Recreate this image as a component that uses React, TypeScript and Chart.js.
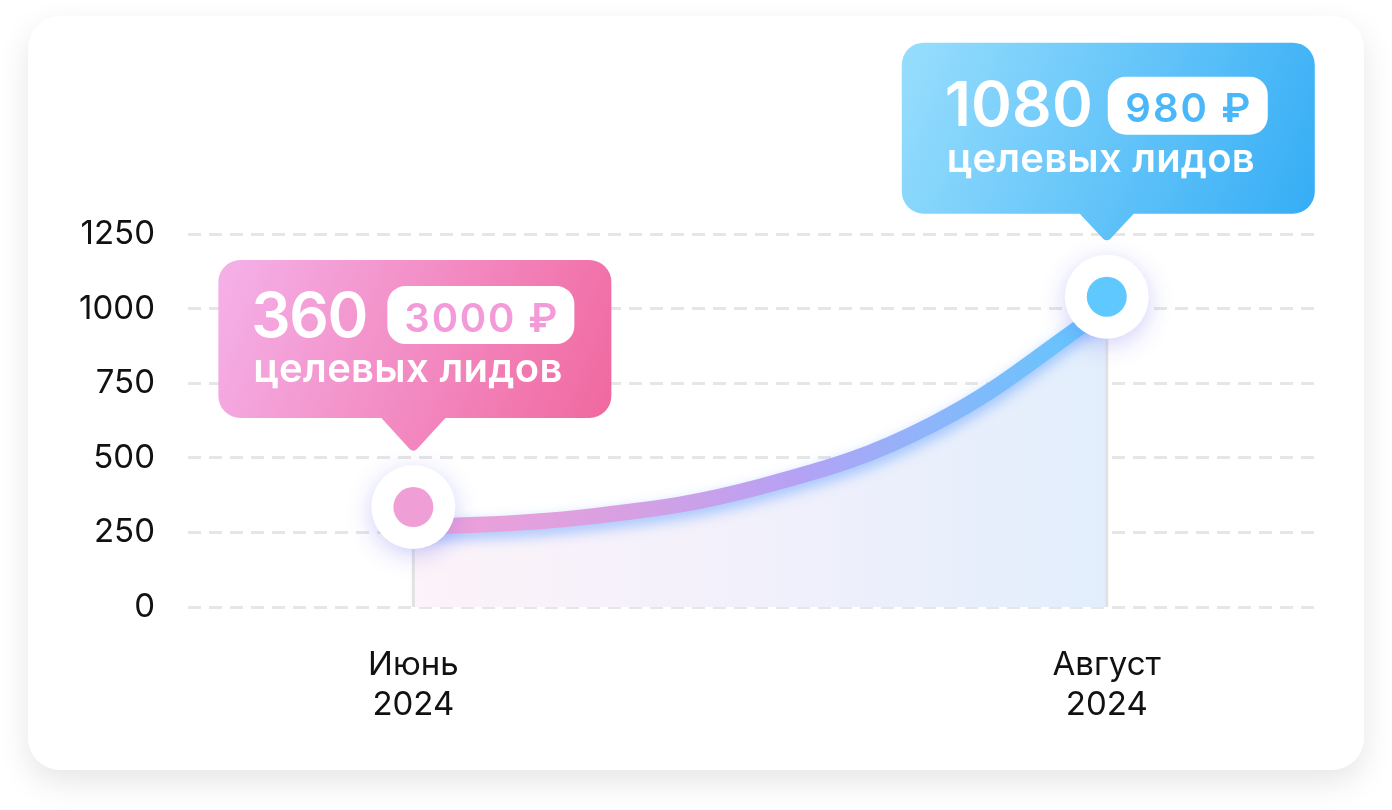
import React, { useEffect, useRef } from 'react';
import { Chart, registerables } from 'chart.js';

Chart.register(...registerables);

// x axis: months as numbers (6 = June, 8 = August)
const monthLabels = ['Июнь 2024', 'Август 2024'];
const monthTicks = [6, 8];

// leads curve
const curveMonths = [6, 6.5, 7, 7.5, 8];
const curveLeads = [265, 302, 403, 614, 1000];

// highlighted points with callouts
const markerMonths = [6, 8];
const markerLeads = [335, 1040];
const leadCounts = ['360', '1080'];
const leadPrices = ['3000 ₽', '980 ₽'];
const leadCaption = 'целевых лидов';
const markerColors = ['#f09fd6', '#5fc8ff'];

const yTicks = [0, 250, 500, 750, 1000, 1250];

const FONT = 'Inter, "Noto Sans", sans-serif';

const bubbleStyles = [
  {
    colors: ['#f5b1e9', '#f0689f'], accent: '#f29bd8',
    left: -195, right: 198, top: -193, bottom: -35, half: 32,
    numX: 33, numY: 77, numW: 117,
    pill: [169, 26, 187, 58], priceY: 72, priceW: 153,
    capX: 35, capY: 122, capW: 309,
  },
  {
    colors: ['#98defd', '#35adf5'], accent: '#4ab8f8',
    left: -205, right: 208, top: -200, bottom: -29, half: 27,
    numX: 43, numY: 83, numW: 148,
    pill: [206, 34, 160, 58], priceY: 79, priceW: 125,
    capX: 45, capY: 129, capW: 308,
  },
];

function fitText(ctx: CanvasRenderingContext2D, text: string, x: number, y: number, width: number) {
  (ctx as any).letterSpacing = '0px';
  const w = ctx.measureText(text).width;
  const sp = (width - w) / Math.max(1, text.length - 1);
  (ctx as any).letterSpacing = `${sp}px`;
  ctx.fillText(text, x, y);
  (ctx as any).letterSpacing = '0px';
}

function roundRect(ctx: CanvasRenderingContext2D, x: number, y: number, w: number, h: number, r: number) {
  ctx.beginPath();
  ctx.moveTo(x + r, y);
  ctx.arcTo(x + w, y, x + w, y + h, r);
  ctx.arcTo(x + w, y + h, x, y + h, r);
  ctx.arcTo(x, y + h, x, y, r);
  ctx.arcTo(x, y, x + w, y, r);
  ctx.closePath();
}

const glowPlugin = {
  id: 'glow',
  beforeDatasetDraw(chart: any, args: any) {
    const ctx = chart.ctx;
    if (args.index === 1) {
      ctx.save();
      ctx.shadowColor = 'rgba(80, 150, 255, 0.5)';
      ctx.shadowBlur = 14;
      ctx.shadowOffsetY = 6;
    }
    if (args.index === 2) {
      ctx.save();
      ctx.shadowColor = 'rgba(110, 110, 240, 0.32)';
      ctx.shadowBlur = 24;
      ctx.shadowOffsetY = 6;
    }
  },
  afterDatasetDraw(chart: any, args: any) {
    const ctx = chart.ctx;
    if (args.index === 1 || args.index === 2) ctx.restore();
    if (args.index === 0) {
      const { x, y } = chart.scales;
      ctx.save();
      ctx.strokeStyle = '#e2e2e2';
      ctx.lineWidth = 3;
      markerMonths.forEach((m, i) => {
        const px = x.getPixelForValue(m);
        ctx.beginPath();
        ctx.moveTo(px, y.getPixelForValue(markerLeads[i]));
        ctx.lineTo(px, y.getPixelForValue(0));
        ctx.stroke();
      });
      ctx.restore();
    }
  },
};

const calloutPlugin = {
  id: 'callouts',
  afterDatasetsDraw(chart: any) {
    const ctx: CanvasRenderingContext2D = chart.ctx;
    const { x, y } = chart.scales;
    markerMonths.forEach((m, i) => {
      const s = bubbleStyles[i];
      const tx = x.getPixelForValue(m);
      const ty = y.getPixelForValue(markerLeads[i]) - 54;
      const L = tx + s.left, R = tx + s.right, T = ty + s.top, B = ty + s.bottom;
      const r = 22;
      ctx.save();
      const g = ctx.createLinearGradient(L, T, R, B);
      g.addColorStop(0, s.colors[0]);
      g.addColorStop(1, s.colors[1]);
      ctx.fillStyle = g;
      ctx.beginPath();
      ctx.moveTo(L + r, T);
      ctx.arcTo(R, T, R, B, r);
      ctx.arcTo(R, B, L, B, r);
      ctx.lineTo(tx + s.half, B);
      ctx.arcTo(tx, ty, tx - s.half, B, 5);
      ctx.lineTo(tx - s.half, B);
      ctx.arcTo(L, B, L, T, r);
      ctx.arcTo(L, T, R, T, r);
      ctx.closePath();
      ctx.fill();

      ctx.textAlign = 'left';
      ctx.textBaseline = 'alphabetic';
      ctx.fillStyle = '#ffffff';
      ctx.font = `600 62px ${FONT}`;
      fitText(ctx, leadCounts[i], L + s.numX, T + s.numY, s.numW);

      const [px, py, pw, ph] = s.pill;
      ctx.fillStyle = '#ffffff';
      roundRect(ctx, L + px, T + py, pw, ph, 18);
      ctx.fill();
      ctx.fillStyle = s.accent;
      ctx.font = `600 40px ${FONT}`;
      fitText(ctx, leadPrices[i], L + px + (pw - s.priceW) / 2, T + s.priceY, s.priceW);

      ctx.fillStyle = '#ffffff';
      ctx.font = `600 40px ${FONT}`;
      fitText(ctx, leadCaption, L + s.capX, T + s.capY, s.capW);
      ctx.restore();
    });
  },
};

const App: React.FC = () => {
  const chartRef = useRef<HTMLCanvasElement>(null);
  const chartInstance = useRef<Chart | null>(null);

  useEffect(() => {
    if (!chartRef.current) return;
    if (chartInstance.current) chartInstance.current.destroy();

    const curve = curveMonths.map((m, i) => ({ x: m, y: curveLeads[i] }));
    const markers = markerMonths.map((m, i) => ({ x: m, y: markerLeads[i] }));

    const spanGradient = (context: any, stops: [number, string][]) => {
      const { chart } = context;
      if (!chart.chartArea) return stops[0][1];
      const x = chart.scales.x;
      const g = chart.ctx.createLinearGradient(
        x.getPixelForValue(monthTicks[0]), 0,
        x.getPixelForValue(monthTicks[monthTicks.length - 1]), 0,
      );
      stops.forEach(([o, c]) => g.addColorStop(o, c));
      return g;
    };

    chartInstance.current = new Chart(chartRef.current, {
      type: 'line',
      data: {
        datasets: [
          {
            data: curve,
            fill: 'origin',
            borderWidth: 0,
            pointRadius: 0,
            tension: 0.4,
            backgroundColor: (c: any) =>
              spanGradient(c, [[0, '#fdf3f9'], [0.5, '#f1f0fb'], [1, '#e2eefc']]),
            order: 4,
          },
          {
            data: curve,
            fill: false,
            borderWidth: 16,
            borderCapStyle: 'round',
            pointRadius: 0,
            tension: 0.4,
            borderColor: (c: any) =>
              spanGradient(c, [
                [0, '#f2a0d8'], [0.3, '#d8a0e2'], [0.55, '#b6a1f4'], [0.75, '#8cb5fa'], [1, '#5ec8fe'],
              ]),
            order: 3,
          },
          {
            data: markers,
            showLine: false,
            pointRadius: 42,
            pointBackgroundColor: '#ffffff',
            pointBorderWidth: 0,
            order: 2,
          },
          {
            data: markers,
            showLine: false,
            pointRadius: 20,
            pointBackgroundColor: markerColors,
            pointBorderWidth: 0,
            order: 1,
          },
        ],
      },
      options: {
        animation: false,
        responsive: true,
        maintainAspectRatio: false,
        events: [],
        clip: false,
        layout: { padding: { top: 218, right: 44, left: 0, bottom: 0 } },
        plugins: {
          legend: { display: false },
          tooltip: { enabled: false },
        },
        scales: {
          x: {
            type: 'linear',
            min: 5.35,
            max: 8.615,
            afterBuildTicks: (scale: any) => {
              scale.ticks = monthTicks.map((v) => ({ value: v }));
            },
            afterFit: (scale: any) => {
              scale.height = 163;
            },
            grid: { display: false },
            border: { display: false },
            ticks: {
              autoSkip: false,
              maxRotation: 0,
              padding: 30,
              color: '#111111',
              font: { family: FONT, size: 33, weight: 400, lineHeight: 1.22 },
              callback: (v: any) => {
                const i = monthTicks.indexOf(Number(v));
                return i >= 0 ? monthLabels[i].split(' ') : '';
              },
            },
          },
          y: {
            min: yTicks[0],
            max: yTicks[yTicks.length - 1],
            afterFit: (scale: any) => {
              scale.width = 160;
            },
            grid: { color: '#e6e6e6', lineWidth: 3, drawTicks: false },
            border: { display: false, dash: [13, 8] },
            ticks: {
              stepSize: 250,
              padding: 33,
              color: '#111111',
              font: { family: FONT, size: 33, weight: 400 },
              callback: (v: any) => String(v),
            },
          },
        },
      } as any,
      plugins: [glowPlugin, calloutPlugin],
    });

    return () => {
      if (chartInstance.current) {
        chartInstance.current.destroy();
        chartInstance.current = null;
      }
    };
  }, []);

  return (
    <div style={{ position: 'fixed', inset: 0, background: '#ffffff' }}>
      <div
        style={{
          position: 'absolute',
          left: 28,
          top: 16,
          width: 1336,
          height: 754,
          borderRadius: 32,
          background: '#ffffff',
          boxShadow: '0 12px 32px rgba(0, 0, 0, 0.10)',
        }}
      >
        <canvas ref={chartRef}></canvas>
      </div>
    </div>
  );
};

export default App;
